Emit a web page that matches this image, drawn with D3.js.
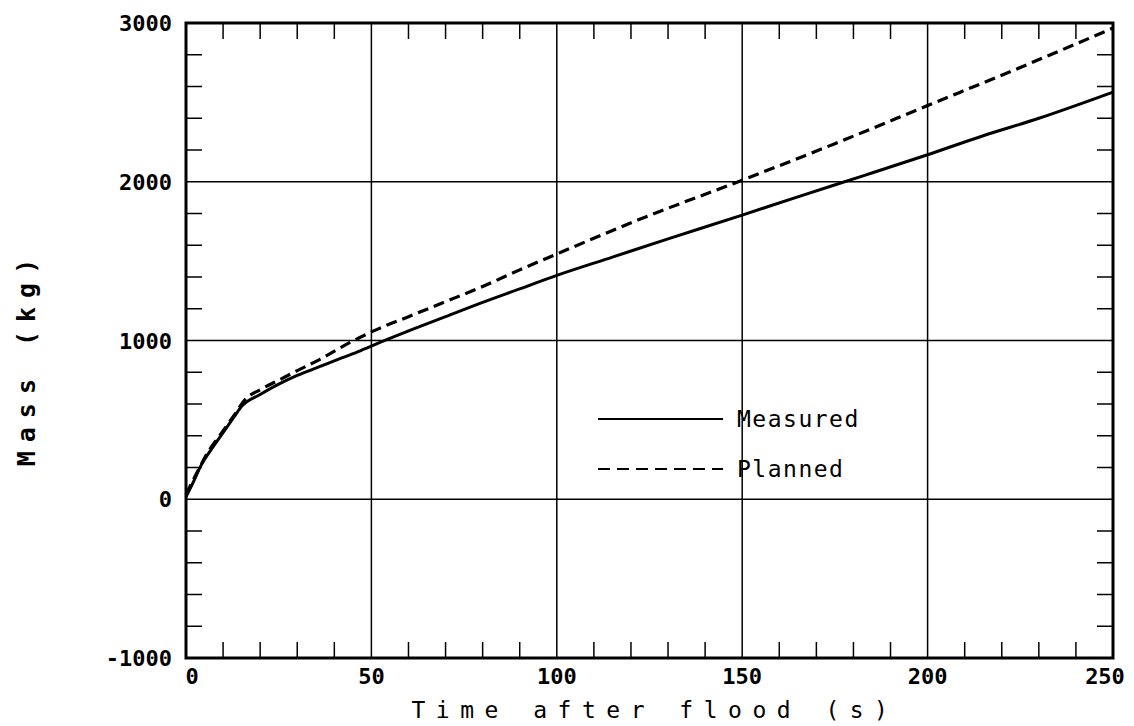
<!DOCTYPE html>
<html>
<head>
<meta charset="utf-8">
<script src="https://cdn.jsdelivr.net/npm/d3@7/dist/d3.min.js"></script>
<style>
  html, body { margin: 0; padding: 0; background: #fff; }
  svg { display: block; }
  .tick-label { font-family: "DejaVu Sans Mono", monospace; font-weight: bold; font-size: 22px; fill: #000; }
  .axis-title { font-family: "DejaVu Sans Mono", monospace; font-size: 23px; fill: #000; }
  .legend-text { font-family: "DejaVu Sans Mono", monospace; font-size: 23px; fill: #000; letter-spacing: 1.5px; }
</style>
</head>
<body>
<svg id="chart" width="1134" height="726"></svg>
<script>
// ---- data ----
const measuredTime = [0, 2, 4, 7, 10, 13, 15, 20, 25, 30, 36, 42, 47, 52, 60, 70, 80, 90, 100, 115, 130, 150, 165, 183, 200, 215, 230, 250];
const measuredMass = [15, 110, 210, 320, 420, 520, 585, 660, 725, 780, 835, 890, 935, 985, 1060, 1150, 1240, 1325, 1410, 1525, 1640, 1790, 1905, 2040, 2170, 2290, 2400, 2565];

const plannedTime = [0, 3, 6, 10, 13, 16, 20, 25, 30, 36, 44, 52, 60, 70, 80, 90, 100, 122, 150, 175, 200, 225, 250];
const plannedMass = [30, 170, 300, 430, 530, 630, 690, 750, 810, 880, 985, 1075, 1150, 1245, 1340, 1445, 1545, 1760, 2010, 2240, 2480, 2720, 2968];

const xTicks = [0, 50, 100, 150, 200, 250];
const xTickLabels = ["0", "50", "100", "150", "200", "250"];
const yTicks = [-1000, 0, 1000, 2000, 3000];
const yTickLabels = ["-1000", "0", "1000", "2000", "3000"];
const seriesNames = ["Measured", "Planned"];
const xTitle = "Time after flood (s)";
const yTitle = "Mass (kg)";

// ---- layout ----
const L = 186, R = 1113, T = 23, B = 658;
const svg = d3.select("#chart");
const x = d3.scaleLinear().domain([0, 250]).range([L, R]);
const y = d3.scaleLinear().domain([-1000, 3000]).range([B, T]);

// gridlines
const g = svg.append("g");
g.selectAll(".vgrid").data(xTicks.filter(d => d > 0 && d < 250)).enter().append("line")
  .attr("x1", d => x(d)).attr("x2", d => x(d)).attr("y1", T).attr("y2", B)
  .attr("stroke", "#000").attr("stroke-width", 1.5);
g.selectAll(".hgrid").data(yTicks.filter(d => d > -1000 && d < 3000)).enter().append("line")
  .attr("x1", L).attr("x2", R).attr("y1", d => y(d)).attr("y2", d => y(d))
  .attr("stroke", "#000").attr("stroke-width", 1.5);

// minor ticks (inward) on all four sides
const xMinor = d3.range(0, 251, 10).filter(d => d % 50 !== 0);
const yMinor = d3.range(-1000, 3001, 200).filter(d => d % 1000 !== 0);
const tl = 16;
g.selectAll(".xmb").data(xMinor).enter().append("line")
  .attr("x1", d => x(d)).attr("x2", d => x(d)).attr("y1", B).attr("y2", B - tl)
  .attr("stroke", "#000").attr("stroke-width", 1.5);
g.selectAll(".xmt").data(xMinor).enter().append("line")
  .attr("x1", d => x(d)).attr("x2", d => x(d)).attr("y1", T).attr("y2", T + tl)
  .attr("stroke", "#000").attr("stroke-width", 1.5);
g.selectAll(".yml").data(yMinor).enter().append("line")
  .attr("x1", L).attr("x2", L + tl).attr("y1", d => y(d)).attr("y2", d => y(d))
  .attr("stroke", "#000").attr("stroke-width", 1.5);
g.selectAll(".ymr").data(yMinor).enter().append("line")
  .attr("x1", R).attr("x2", R - tl).attr("y1", d => y(d)).attr("y2", d => y(d))
  .attr("stroke", "#000").attr("stroke-width", 1.5);

// frame
g.append("rect").attr("x", L).attr("y", T).attr("width", R - L).attr("height", B - T)
  .attr("fill", "none").attr("stroke", "#000").attr("stroke-width", 3);

// tick labels
g.selectAll(".xl").data(xTicks).enter().append("text")
  .attr("class", "tick-label")
  .attr("x", (d, i) => i === 0 ? x(d) + 6 : (i === xTicks.length - 1 ? x(d) - 8 : x(d)))
  .attr("y", B + 26)
  .attr("text-anchor", "middle")
  .text((d, i) => xTickLabels[i]);
g.selectAll(".yl").data(yTicks).enter().append("text")
  .attr("class", "tick-label")
  .attr("x", L - 14).attr("y", d => y(d) + 8)
  .attr("text-anchor", "end")
  .text((d, i) => yTickLabels[i]);

// axis titles
svg.append("text").attr("class", "axis-title")
  .attr("x", 655).attr("y", 718).attr("text-anchor", "middle")
  .style("letter-spacing", "10.5px")
  .text(xTitle);
svg.append("text").attr("class", "axis-title")
  .attr("transform", "translate(35,358) rotate(-90)")
  .attr("text-anchor", "middle")
  .style("letter-spacing", "9px").style("font-weight", "bold").style("font-size", "25px")
  .text(yTitle);

// lines
const lineGen = d3.line().x(d => x(d[0])).y(d => y(d[1])).curve(d3.curveMonotoneX);
const measured = measuredTime.map((t, i) => [t, measuredMass[i]]);
const planned = plannedTime.map((t, i) => [t, plannedMass[i]]);
svg.append("path").datum(measured).attr("d", lineGen)
  .attr("fill", "none").attr("stroke", "#000").attr("stroke-width", 3).attr("stroke-linejoin", "round");
svg.append("path").datum(planned).attr("d", lineGen)
  .attr("fill", "none").attr("stroke", "#000").attr("stroke-width", 3.2)
  .attr("stroke-dasharray", "11,6");

// legend
const lg = svg.append("g");
lg.append("line").attr("x1", 598).attr("x2", 723).attr("y1", 419).attr("y2", 419)
  .attr("stroke", "#000").attr("stroke-width", 1.8);
lg.append("line").attr("x1", 598).attr("x2", 723).attr("y1", 469).attr("y2", 469)
  .attr("stroke", "#000").attr("stroke-width", 2.2).attr("stroke-dasharray", "12,7");
lg.append("text").attr("class", "legend-text").attr("x", 737).attr("y", 427).text(seriesNames[0]);
lg.append("text").attr("class", "legend-text").attr("x", 737).attr("y", 477).text(seriesNames[1]);
</script>
</body>
</html>
